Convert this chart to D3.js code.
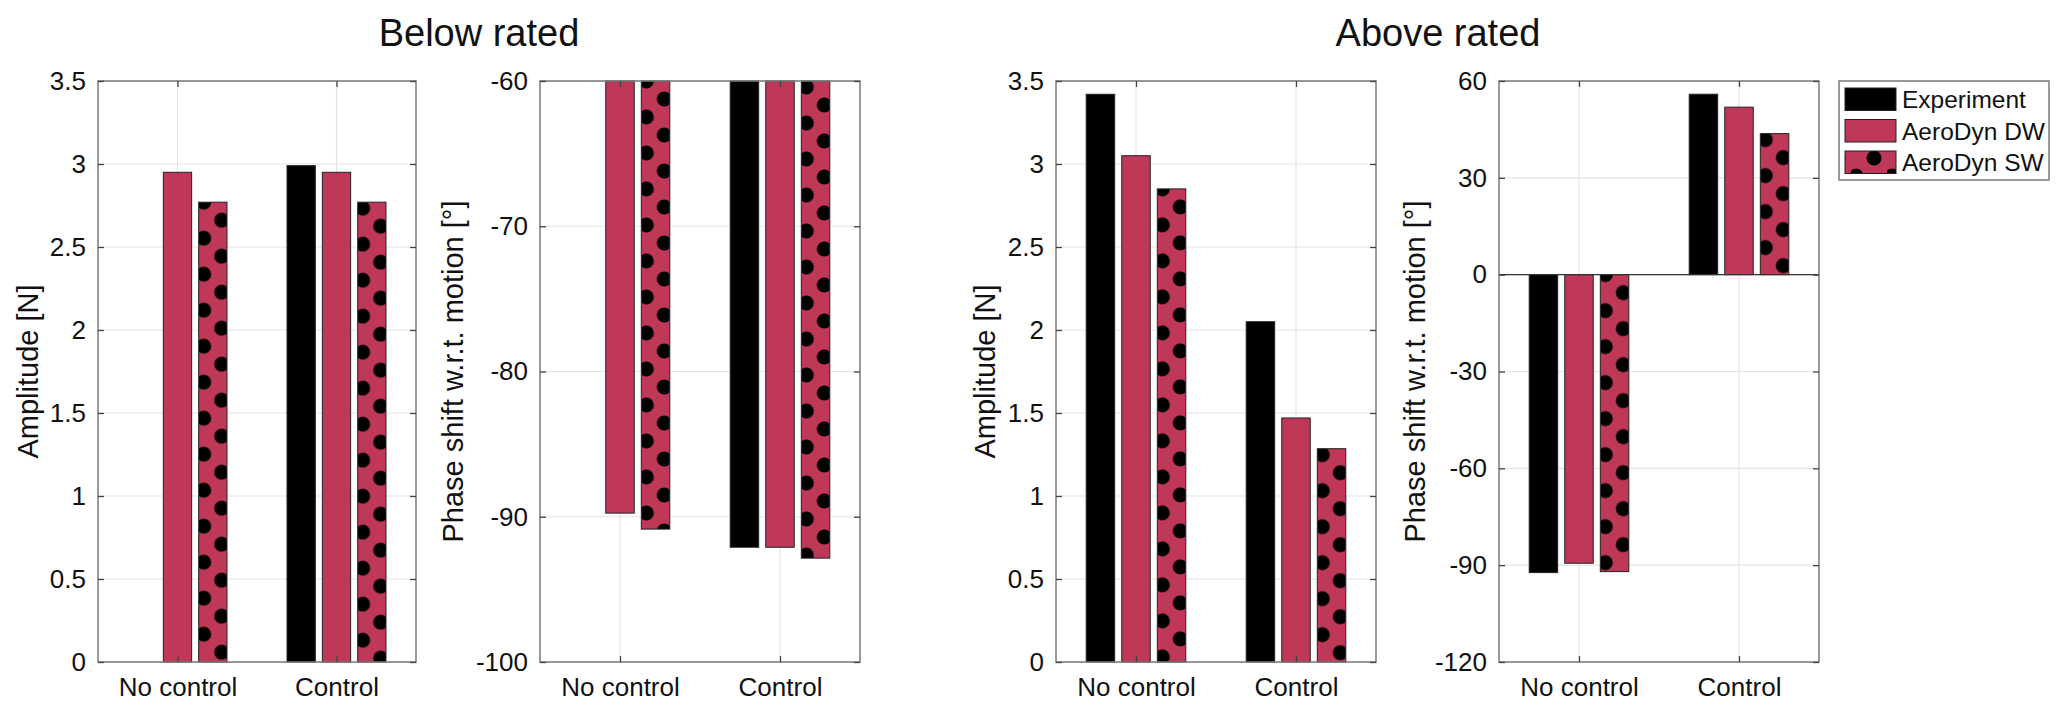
<!DOCTYPE html>
<html>
<head>
<meta charset="utf-8">
<title>Below / above rated</title>
<script src="https://cdnjs.cloudflare.com/ajax/libs/d3/7.8.5/d3.min.js"></script>
<style>
body { margin: 0; background: #fff; }
text { font-family: "Liberation Sans", Arial, Helvetica, sans-serif; fill: #111; }
</style>
</head>
<body>
<script>
// data
var categories = ["No control", "Control"];
var seriesNames = ["Experiment", "AeroDyn DW", "AeroDyn SW"];

var belowAmpExp = [null, 2.99];
var belowAmpDW  = [2.95, 2.95];
var belowAmpSW  = [2.77, 2.77];

var belowPhaseExp = [null, -92.1];
var belowPhaseDW  = [-89.75, -92.1];
var belowPhaseSW  = [-90.85, -92.85];

var aboveAmpExp = [3.42, 2.05];
var aboveAmpDW  = [3.05, 1.47];
var aboveAmpSW  = [2.85, 1.285];

var abovePhaseExp = [-92.3, 55.9];
var abovePhaseDW  = [-89.4, 51.9];
var abovePhaseSW  = [-92.0, 43.7];

var ampTicks = [0, 0.5, 1, 1.5, 2, 2.5, 3, 3.5];
var belowPhaseTicks = [-100, -90, -80, -70, -60];
var abovePhaseTicks = [-120, -90, -60, -30, 0, 30, 60];

var width = 2067, height = 716;
var top0 = 81, bottom0 = 662;
var red = "#bf3857";

var svg = d3.select("body").append("svg")
    .attr("width", width)
    .attr("height", height);

var defs = svg.append("defs");
var patCount = 0;

// dotted fill for the SW series, anchored on each bar so every bar gets the left/right zig-zag
function dotsFill(x0, y0) {
    var id = "dots" + (patCount++);
    var pat = defs.append("pattern")
        .attr("id", id)
        .attr("patternUnits", "userSpaceOnUse")
        .attr("x", x0).attr("y", y0)
        .attr("width", 36)
        .attr("height", 36);
    pat.append("rect").attr("width", 36).attr("height", 36).attr("fill", red);
    [[5, 0], [5, 36], [23, 18]].forEach(function(p) {
        pat.append("circle").attr("cx", p[0]).attr("cy", p[1]).attr("r", 7.5).attr("fill", "#000");
    });
    return "url(#" + id + ")";
}

function barFill(i, x0, y0) {
    if (i == 0) return "#000";
    if (i == 1) return red;
    return dotsFill(x0, y0);
}

function drawPanel(o) {
    var x = d3.scaleLinear().domain([0.5, 2.5]).range([o.left, o.right]);
    var y = d3.scaleLinear().domain(o.domain).range([bottom0, top0]).clamp(true);
    var g = svg.append("g");

    // grid
    g.append("g").selectAll("line").data(o.ticks).enter().append("line")
        .attr("x1", o.left).attr("x2", o.right)
        .attr("y1", function(d) { return y(d); }).attr("y2", function(d) { return y(d); })
        .attr("stroke", "#e4e4e4").attr("stroke-width", 1.2);
    g.append("g").selectAll("line").data([1, 2]).enter().append("line")
        .attr("x1", function(d) { return x(d); }).attr("x2", function(d) { return x(d); })
        .attr("y1", top0).attr("y2", bottom0)
        .attr("stroke", "#e4e4e4").attr("stroke-width", 1.2);

    // bars
    var barW = x(0.178) - x(0);
    o.series.forEach(function(vals, i) {
        g.append("g").selectAll("rect")
            .data(vals.map(function(v, j) { return {v: v, j: j}; }).filter(function(d) { return d.v != null; }))
            .enter().append("rect")
            .attr("x", function(d) { return x(d.j + 1 + (i - 1) * 0.2222) - barW / 2; })
            .attr("width", barW)
            .attr("y", function(d) { return Math.min(y(0), y(d.v)); })
            .attr("height", function(d) { return Math.abs(y(0) - y(d.v)); })
            .attr("fill", function(d) {
                return barFill(i, x(d.j + 1 + (i - 1) * 0.2222) - barW / 2, Math.min(y(0), y(d.v)) + 6 * d.j);
            })
            .attr("stroke", "#222")
            .attr("stroke-width", 1);
    });

    // zero baseline when it is inside the axes
    if (o.domain[0] < 0 && o.domain[1] > 0) {
        g.append("line")
            .attr("x1", o.left).attr("x2", o.right)
            .attr("y1", y(0)).attr("y2", y(0))
            .attr("stroke", "#333").attr("stroke-width", 1.3);
    }

    // box
    g.append("rect")
        .attr("x", o.left).attr("y", top0)
        .attr("width", o.right - o.left).attr("height", bottom0 - top0)
        .attr("fill", "none").attr("stroke", "#7a7a7a").attr("stroke-width", 1.5);

    // axes, ticks pointing in
    var yl = g.append("g").attr("transform", "translate(" + o.left + ",0)")
        .call(d3.axisLeft(y).tickValues(o.ticks).tickSize(-6).tickPadding(12)
              .tickFormat(function(d) { return String(d); }));
    var yr = g.append("g").attr("transform", "translate(" + o.right + ",0)")
        .call(d3.axisRight(y).tickValues(o.ticks).tickSize(-6).tickFormat(""));
    var xb = g.append("g").attr("transform", "translate(0," + bottom0 + ")")
        .call(d3.axisBottom(x).tickValues([1, 2]).tickSize(-6).tickPadding(16)
              .tickFormat(function(d) { return categories[d - 1]; }));
    var xt = g.append("g").attr("transform", "translate(0," + top0 + ")")
        .call(d3.axisTop(x).tickValues([1, 2]).tickSize(-6).tickFormat(""));
    [yl, yr, xb, xt].forEach(function(a) {
        a.select(".domain").remove();
        a.selectAll(".tick line").attr("stroke", "#444").attr("stroke-width", 1.3);
        a.selectAll("text").attr("font-size", 26).attr("fill", "#111")
            .style("font-family", "'Liberation Sans', Arial, sans-serif");
    });
    xb.selectAll("text").attr("dy", "0.71em");

    // y label
    g.append("text")
        .attr("transform", "translate(" + o.labelX + "," + ((top0 + bottom0) / 2) + ") rotate(-90)")
        .attr("text-anchor", "middle")
        .attr("font-size", 29)
        .text(o.label);
}

drawPanel({left: 98, right: 416, domain: [0, 3.5], ticks: ampTicks,
           label: "Amplitude [N]", labelX: 38,
           series: [belowAmpExp, belowAmpDW, belowAmpSW]});
drawPanel({left: 540, right: 860, domain: [-100, -60], ticks: belowPhaseTicks,
           label: "Phase shift w.r.t. motion [\u00b0]", labelX: 463,
           series: [belowPhaseExp, belowPhaseDW, belowPhaseSW]});
drawPanel({left: 1056, right: 1376, domain: [0, 3.5], ticks: ampTicks,
           label: "Amplitude [N]", labelX: 995,
           series: [aboveAmpExp, aboveAmpDW, aboveAmpSW]});
drawPanel({left: 1499, right: 1819, domain: [-120, 60], ticks: abovePhaseTicks,
           label: "Phase shift w.r.t. motion [\u00b0]", labelX: 1425,
           series: [abovePhaseExp, abovePhaseDW, abovePhaseSW]});

// titles
svg.append("text").attr("x", 479).attr("y", 46).attr("text-anchor", "middle")
    .attr("font-size", 38).text("Below rated");
svg.append("text").attr("x", 1438).attr("y", 46).attr("text-anchor", "middle")
    .attr("font-size", 38).text("Above rated");

// legend
var leg = svg.append("g");
leg.append("rect").attr("x", 1839).attr("y", 81).attr("width", 210).attr("height", 99)
    .attr("fill", "#fff").attr("stroke", "#7a7a7a").attr("stroke-width", 1.5);
var legY = [88, 119.5, 151];
seriesNames.forEach(function(name, i) {
    leg.append("rect").attr("x", 1845).attr("y", legY[i]).attr("width", 51).attr("height", 22.5)
        .attr("fill", barFill(i, 1851, legY[i] - 11))
        .attr("stroke", "#222").attr("stroke-width", 1);
    leg.append("text").attr("x", 1902).attr("y", legY[i] + 20)
        .attr("font-size", 24.5).text(name);
});
</script>
</body>
</html>
